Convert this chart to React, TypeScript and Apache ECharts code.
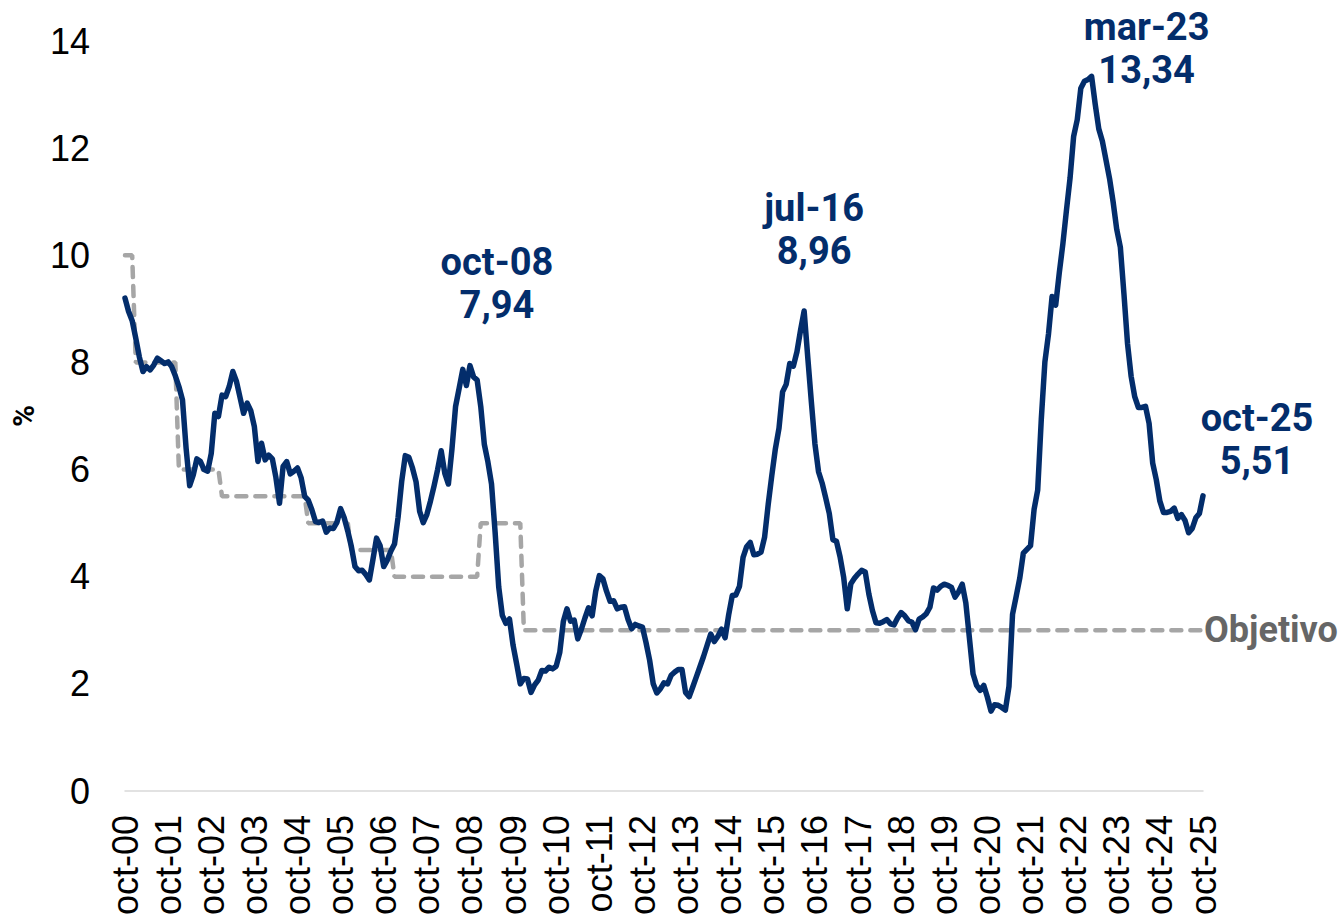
import React, { useEffect, useRef } from "react";
import * as echarts from "echarts";

// ---- Data ----
const monthAbbr = ["ene", "feb", "mar", "abr", "may", "jun", "jul", "ago", "sep", "oct", "nov", "dic"];
const startYear = 2000; // series starts oct-00
const startMonth = 9;
const endYear = 2025; // series ends oct-25
const endMonth = 9;

// Annual CPI inflation (%), monthly
const infl2000 = [9.2, 8.95, 8.78]; // oct-dic
const infl2001 = [8.45, 8.1, 7.83, 7.92, 7.86, 7.95, 8.08, 8.03, 7.98, 8.01, 7.92, 7.75];
const infl2002 = [7.55, 7.3, 6.4, 5.7, 5.9, 6.2, 6.15, 6.0, 5.97, 6.3, 7.05, 6.99];
const infl2003 = [7.39, 7.36, 7.55, 7.83, 7.65, 7.35, 7.05, 7.24, 7.1, 6.8, 6.15, 6.49];
const infl2004 = [6.18, 6.27, 6.2, 5.85, 5.37, 6.06, 6.15, 5.92, 5.97, 6.03, 5.85, 5.5];
const infl2005 = [5.43, 5.25, 5.03, 5.01, 5.04, 4.83, 4.91, 4.9, 5.02, 5.27, 5.1, 4.85];
const infl2006 = [4.56, 4.19, 4.11, 4.12, 4.04, 3.94, 4.32, 4.72, 4.58, 4.19, 4.31, 4.48];
const infl2007 = [4.61, 5.11, 5.78, 6.26, 6.23, 6.03, 5.77, 5.22, 5.01, 5.16, 5.41, 5.69];
const infl2008 = [6.0, 6.35, 5.93, 5.73, 6.39, 7.18, 7.52, 7.87, 7.57, 7.94, 7.73, 7.67];
const infl2009 = [7.18, 6.47, 6.14, 5.73, 4.83, 3.81, 3.28, 3.13, 3.21, 2.72, 2.37, 2.0];
const infl2010 = [2.1, 2.09, 1.84, 1.98, 2.07, 2.25, 2.24, 2.31, 2.28, 2.33, 2.59, 3.17];
const infl2011 = [3.4, 3.17, 3.19, 2.84, 3.02, 3.23, 3.42, 3.27, 3.73, 4.02, 3.96, 3.73];
const infl2012 = [3.54, 3.55, 3.4, 3.43, 3.44, 3.2, 3.03, 3.11, 3.08, 3.06, 2.77, 2.44];
const infl2013 = [2.0, 1.83, 1.91, 2.02, 2.0, 2.16, 2.22, 2.27, 2.27, 1.84, 1.76, 1.94];
const infl2014 = [2.13, 2.32, 2.51, 2.72, 2.93, 2.79, 2.89, 3.02, 2.86, 3.29, 3.65, 3.66];
const infl2015 = [3.82, 4.36, 4.56, 4.64, 4.41, 4.42, 4.46, 4.74, 5.35, 5.89, 6.39, 6.77];
const infl2016 = [7.45, 7.59, 7.98, 7.93, 8.2, 8.6, 8.96, 8.1, 7.27, 6.48, 5.96, 5.75];
const infl2017 = [5.47, 5.18, 4.69, 4.66, 4.37, 3.99, 3.4, 3.87, 3.97, 4.05, 4.12, 4.09];
const infl2018 = [3.68, 3.37, 3.14, 3.13, 3.16, 3.2, 3.12, 3.1, 3.23, 3.33, 3.27, 3.18];
const infl2019 = [3.15, 3.01, 3.21, 3.25, 3.31, 3.43, 3.79, 3.75, 3.82, 3.86, 3.84, 3.8];
const infl2020 = [3.62, 3.72, 3.86, 3.51, 2.85, 2.19, 1.97, 1.88, 1.97, 1.75, 1.49, 1.61];
const infl2021 = [1.6, 1.56, 1.51, 1.95, 3.3, 3.63, 3.97, 4.44, 4.51, 4.58, 5.26, 5.62];
const infl2022 = [6.94, 8.01, 8.53, 9.23, 9.07, 9.67, 10.21, 10.84, 11.44, 12.22, 12.53, 13.12];
const infl2023 = [13.25, 13.28, 13.34, 12.82, 12.36, 12.13, 11.78, 11.43, 10.99, 10.48, 10.15, 9.28];
const infl2024 = [8.35, 7.74, 7.36, 7.16, 7.16, 7.18, 6.86, 6.12, 5.81, 5.41, 5.2, 5.2];
const infl2025 = [5.22, 5.28, 5.09, 5.16, 5.05, 4.82, 4.9, 5.1, 5.18, 5.51]; // ene-oct

// Inflation target ("Objetivo") by year
const targetYears = [2000, 2001, 2002, 2003, 2004, 2005, 2006, 2007, 2008, 2009, 2010, 2011, 2012,
  2013, 2014, 2015, 2016, 2017, 2018, 2019, 2020, 2021, 2022, 2023, 2024, 2025];
const targetValues = [10, 8, 6, 5.5, 5.5, 5, 4.5, 4, 4, 5, 3, 3, 3, 3, 3, 3, 3, 3, 3, 3, 3, 3, 3, 3, 3, 3];

// Highlighted points
const highlights = ["oct-08", "jul-16", "mar-23", "oct-25"];

// ---- Build tables ----
const inflation: number[] = [].concat(
  infl2000, infl2001, infl2002, infl2003, infl2004, infl2005, infl2006, infl2007, infl2008,
  infl2009, infl2010, infl2011, infl2012, infl2013, infl2014, infl2015, infl2016, infl2017,
  infl2018, infl2019, infl2020, infl2021, infl2022, infl2023, infl2024, infl2025
);

const categories: string[] = [];
const catYears: number[] = [];
for (let y = startYear; y <= endYear; y++) {
  for (let m = 0; m < 12; m++) {
    if (y === startYear && m < startMonth) continue;
    if (y === endYear && m > endMonth) continue;
    categories.push(monthAbbr[m] + "-" + String(y % 100).padStart(2, "0"));
    catYears.push(y);
  }
}
const target = catYears.map((y) => targetValues[targetYears.indexOf(y)]);

const NAVY = "#032d6b";
const labelOffsets: Record<string, number[]> = {
  "oct-08": [27, -82],
  "jul-16": [10, -82],
  "mar-23": [55, -28],
  "oct-25": [54, -56],
};

export default function App() {
  const ref = useRef<HTMLDivElement>(null);
  useEffect(() => {
    const chart = echarts.init(ref.current!, null, { renderer: "svg" });
    const axisFont = "'Liberation Sans', Arial, sans-serif";
    const boldFont = "Roboto, 'Liberation Sans', sans-serif";
    chart.setOption({
      animation: false,
      grid: { left: 123, right: 141, top: 41, bottom: 130, containLabel: false },
      xAxis: {
        type: "category",
        data: categories,
        boundaryGap: false,
        axisLine: { lineStyle: { color: "#d9d9d9", width: 1.5 } },
        axisTick: { show: false },
        splitLine: { show: false },
        axisLabel: {
          interval: (i: number) => i % 12 === 0,
          rotate: 90,
          fontSize: 36,
          fontFamily: axisFont,
          color: "#000",
          margin: 24,
        },
      },
      yAxis: {
        type: "value",
        min: 0,
        max: 14,
        interval: 2,
        axisLine: { show: false },
        axisTick: { show: false },
        splitLine: { show: false },
        axisLabel: { fontSize: 36, fontFamily: axisFont, color: "#000", margin: 35 },
        name: "%",
        nameLocation: "middle",
        nameRotate: 90,
        nameGap: 87,
        nameTextStyle: { fontSize: 30, fontWeight: "bold", color: "#000", fontFamily: boldFont },
      },
      series: [
        {
          name: "Objetivo",
          type: "line",
          data: target,
          symbol: "none",
          silent: true,
          z: 1,
          lineStyle: { color: "#a6a6a6", width: 4.5, type: [10, 9], cap: "round" },
          endLabel: {
            show: true,
            formatter: "Objetivo",
            color: "#666666",
            fontSize: 36,
            fontWeight: "bold",
            fontFamily: boldFont,
            distance: 1,
          },
        },
        {
          name: "Inflación",
          type: "line",
          data: inflation,
          symbol: "none",
          z: 2,
          lineStyle: { color: NAVY, width: 5.5, join: "round", cap: "round" },
          markPoint: {
            symbol: "circle",
            symbolSize: 1,
            itemStyle: { color: "rgba(0,0,0,0)" },
            label: {
              show: true,
              position: "inside",
              color: NAVY,
              fontSize: 38,
              fontWeight: "bold",
              fontFamily: boldFont,
              lineHeight: 43,
              align: "center",
            },
            data: highlights.map((c) => {
              const v = inflation[categories.indexOf(c)];
              return {
                coord: [c, v],
                value: v,
                label: {
                  formatter: c + "\n" + v.toFixed(2).replace(".", ","),
                  offset: labelOffsets[c],
                },
              };
            }),
          },
        },
      ],
    });
    return () => chart.dispose();
  }, []);
  return (
    <div
      ref={ref}
      style={{ position: "fixed", left: 0, top: 0, width: 1344, height: 921, background: "#fff" }}
    />
  );
}
